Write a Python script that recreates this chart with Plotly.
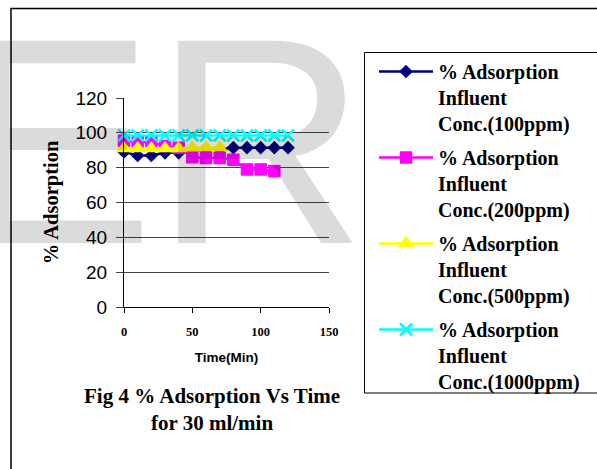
import plotly.graph_objects as go

# Time axis (minutes)
time_min = [0, 10, 20, 30, 40, 50, 60, 70, 80, 90, 100, 110, 120]

# % adsorption for each influent concentration
ads_100ppm = [89.0, 87.0, 87.0, 88.5, 88.5, 89.5, 90.0, 90.5, 91.5, 91.5, 91.5, 91.5, 91.5]
ads_200ppm = [95.5, 95.0, 94.5, 92.5, 91.5, 86.0, 85.5, 85.5, 84.5, 79.0, 79.0, 78.0]
ads_500ppm = [91.0, 91.0, 91.0, 91.0, 91.0, 91.5, 91.5, 91.5]
ads_1000ppm = [98.5, 98.5, 98.5, 98.5, 98.5, 98.5, 98.5, 98.5, 98.5, 98.5, 98.5, 98.5, 98.5]

series_names = [
    "% Adsorption<br>Influent<br>Conc.(100ppm)",
    "% Adsorption<br>Influent<br>Conc.(200ppm)",
    "% Adsorption<br>Influent<br>Conc.(500ppm)",
    "% Adsorption<br>Influent<br>Conc.(1000ppm)",
]

x_ticks = [0, 50, 100, 150]
y_ticks = [0, 20, 40, 60, 80, 100, 120]

W, H = 597, 469
L, R, T, B = 124, 329, 98, 307  # plot area edges in pixels


def px_x(p):
    return (p - L) / (R - L)


def px_y(p):
    return (B - p) / (B - T)


fig = go.Figure()

fig.add_trace(go.Scatter(
    x=time_min[:len(ads_100ppm)], y=ads_100ppm, name=series_names[0],
    mode="lines+markers", line=dict(color="#000080", width=2.5),
    marker=dict(symbol="diamond", size=10.5, color="#000080"),
    cliponaxis=False, legendgroup="a",
))
fig.add_trace(go.Scatter(
    x=time_min[:len(ads_200ppm)], y=ads_200ppm, name=series_names[1],
    mode="lines+markers", line=dict(color="#FF00FF", width=2.5),
    marker=dict(symbol="square", size=12.5, color="#FF00FF"),
    cliponaxis=False, legendgroup="b",
))
fig.add_trace(go.Scatter(
    x=time_min[:len(ads_500ppm)], y=ads_500ppm, name=series_names[2],
    mode="lines+markers", line=dict(color="#FFFF00", width=2.5),
    marker=dict(symbol="triangle-up", size=15, color="#FFFF00"),
    cliponaxis=False, legendgroup="c",
))
fig.add_trace(go.Scatter(
    x=time_min[:len(ads_1000ppm)], y=ads_1000ppm, name=series_names[3],
    mode="lines+markers", line=dict(color="#00FFFF", width=2.5),
    marker=dict(symbol="x-thin", size=12, color="#00FFFF",
                line=dict(color="#00FFFF", width=2.5)),
    cliponaxis=False, legendgroup="d",
))

fig.update_xaxes(
    range=[0, 150], tickvals=x_ticks, showgrid=False, zeroline=False,
    showline=True, linecolor="black", linewidth=1,
    ticks="outside", ticklen=5, tickcolor="black",
    ticklabelstandoff=8,
    tickfont=dict(family="Liberation Serif", size=12.5, color="black", weight="bold"),
    title=dict(text="Time(Min)", standoff=14,
               font=dict(family="Liberation Sans", size=13.5, color="black", weight="bold")),
)
fig.update_yaxes(
    range=[0, 120], tickvals=y_ticks, showgrid=True, gridcolor="#444444", gridwidth=1,
    zeroline=False, showline=True, linecolor="black", linewidth=1,
    ticks="outside", ticklen=7, tickcolor="#444444",
    ticklabelstandoff=5,
    tickfont=dict(family="Liberation Sans", size=19, color="black"),
    title=dict(text="% Adsorption", standoff=11,
               font=dict(family="Liberation Serif", size=20.5, color="black", weight="bold")),
)

# outer frame
fig.add_shape(type="rect", xref="paper", yref="paper",
              x0=px_x(11), x1=px_x(610), y0=px_y(480), y1=px_y(8.5),
              line=dict(color="black", width=1.5), layer="below")

# legend box
fig.add_shape(type="rect", xref="paper", yref="paper",
              x0=px_x(364.5), x1=px_x(610), y0=px_y(393), y1=px_y(52.5),
              line=dict(color="black", width=1), fillcolor="white", layer="below")

# figure caption
fig.add_annotation(text="Fig 4 % Adsorption Vs Time", xref="paper", yref="paper",
                   x=px_x(212), y=px_y(396), xanchor="center", yanchor="middle",
                   showarrow=False,
                   font=dict(family="Liberation Serif", size=21, color="black", weight="bold"))
fig.add_annotation(text="for 30 ml/min", xref="paper", yref="paper",
                   x=px_x(212), y=px_y(423), xanchor="center", yanchor="middle",
                   showarrow=False,
                   font=dict(family="Liberation Serif", size=21, color="black", weight="bold"))

# translucent watermark lettering
fig.add_annotation(text="ER", xref="paper", yref="paper",
                   x=px_x(-44), y=px_y(307), xanchor="left", yanchor="bottom",
                   showarrow=False,
                   font=dict(family="Liberation Sans", size=294, color="rgba(0,0,0,0.14)"))

fig.update_layout(
    width=W, height=H,
    margin=dict(l=L, r=W - R, t=T, b=H - B),
    paper_bgcolor="white", plot_bgcolor="white",
    showlegend=True,
    legend=dict(
        x=px_x(374), y=px_y(52), xanchor="left", yanchor="top",
        borderwidth=0, bgcolor="rgba(0,0,0,0)",
        valign="top", itemwidth=54, tracegroupgap=5, maxheight=460,
        font=dict(family="Liberation Serif", size=20, color="black", weight="bold"),
    ),
)

fig.write_html("out.html")
